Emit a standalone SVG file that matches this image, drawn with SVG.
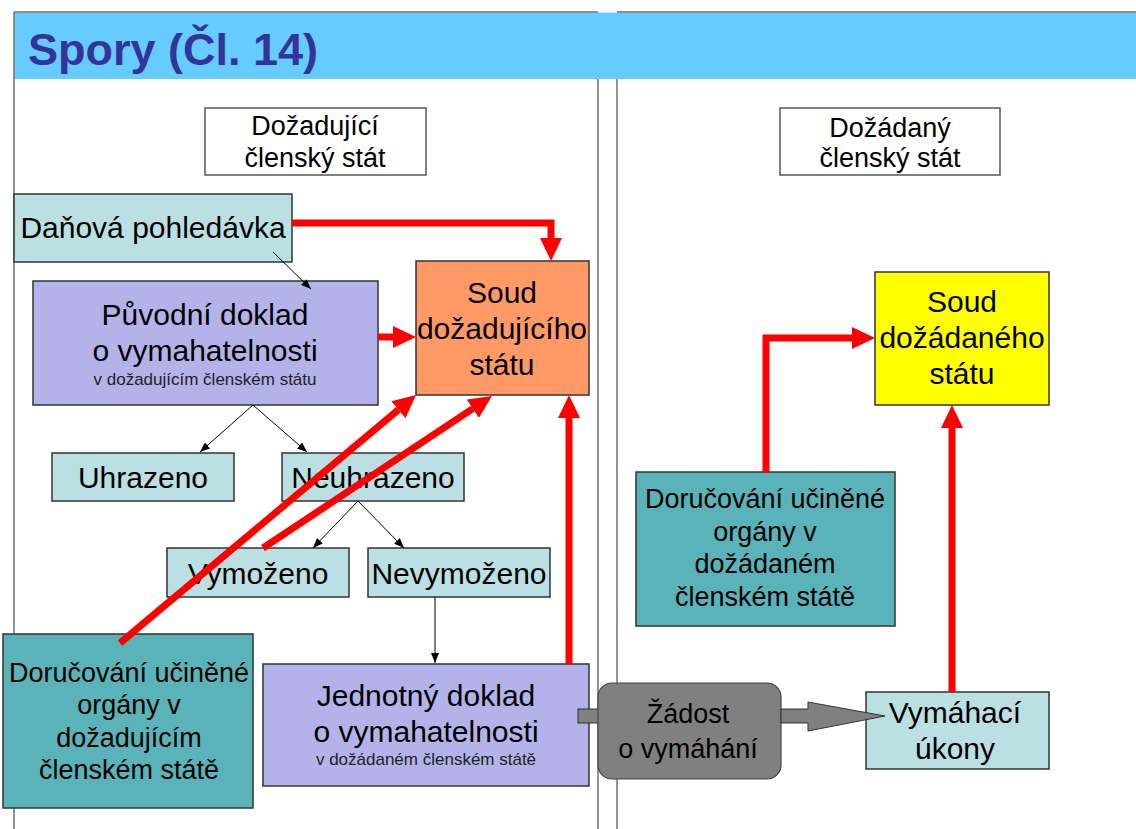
<svg xmlns="http://www.w3.org/2000/svg" width="1136" height="829" viewBox="0 0 1136 829">
  <defs>
    <style>
      .lbl { font-family: "Liberation Sans", Arial, sans-serif; fill: #000; text-anchor: middle; }
      .big { font-size: 30px; }
      .mid { font-size: 27px; }
      .sub { font-size: 17px; fill: #222; }
      .title { font-family: "Liberation Sans", Arial, sans-serif; font-size: 45px; font-weight: bold; fill: #333399; }
      .box { stroke: #333; stroke-width: 1.5; }
      .white { fill: #fff; stroke: #555; stroke-width: 1.5; }
      .pale { fill: #BBE0E3; }
      .lav { fill: #B3B3EA; }
      .teal { fill: #5BB3BA; }
      .frame { stroke: #707070; stroke-width: 1.5; fill: none; }
      .red { stroke: #FF0000; stroke-width: 7; fill: none; stroke-linejoin: miter; marker-end: url(#redHead); }
      .thin { stroke: #000; stroke-width: 1; fill: none; marker-end: url(#blackHead); }
    </style>
    <marker id="redHead" viewBox="0 0 23 22" refX="0" refY="11" markerWidth="23" markerHeight="22" markerUnits="userSpaceOnUse" orient="auto">
      <path d="M0,0 L23,11 L0,22 z" fill="#FF0000"/>
    </marker>
    <marker id="blackHead" viewBox="0 0 10 8" refX="10" refY="4" markerWidth="10" markerHeight="8" markerUnits="userSpaceOnUse" orient="auto">
      <path d="M0,0 L10,4 L0,8 z" fill="#000"/>
    </marker>
  </defs>

  <rect width="1136" height="829" fill="#fff"/>

  <!-- page frames and title band -->
  <g id="frame">
    <rect x="14" y="12.5" width="1122" height="66.5" fill="#66CCFF"/>
    <line class="frame" x1="14" y1="12" x2="598" y2="12"/>
    <line class="frame" x1="617" y1="12" x2="1136" y2="12"/>
    <line class="frame" x1="14" y1="12" x2="14" y2="829"/>
    <line class="frame" x1="598" y1="79" x2="598" y2="829"/>
    <line class="frame" x1="617" y1="79" x2="617" y2="829"/>
    <text class="title" x="28" y="65">Spory (Čl. 14)</text>
  </g>

  <!-- requesting state side -->
  <g id="hdr-left">
    <rect class="white" x="205" y="108" width="221" height="67"/>
    <text class="lbl mid" x="315" y="135">Dožadující</text>
    <text class="lbl mid" x="315" y="167">členský stát</text>
  </g>

  <g id="danova">
    <rect class="box pale" x="14" y="194" width="278" height="68"/>
    <text class="lbl big" x="153" y="238">Daňová pohledávka</text>
  </g>

  <g id="puvodni">
    <rect class="box lav" x="33" y="281" width="345" height="124"/>
    <text class="lbl big" x="205" y="325">Původní doklad</text>
    <text class="lbl big" x="205" y="361">o vymahatelnosti</text>
    <text class="lbl sub" x="205" y="385">v dožadujícím členském státu</text>
  </g>

  <g id="soud-left">
    <rect class="box" x="416" y="261" width="173" height="134" fill="#FF9966"/>
    <text class="lbl big" x="502" y="303">Soud</text>
    <text class="lbl big" x="502" y="339">dožadujícího</text>
    <text class="lbl big" x="502" y="375">státu</text>
  </g>

  <g id="uhrazeno">
    <rect class="box pale" x="52" y="453" width="182" height="48"/>
    <text class="lbl big" x="143" y="488">Uhrazeno</text>
  </g>

  <g id="neuhrazeno">
    <rect class="box pale" x="282" y="453" width="182" height="48"/>
    <text class="lbl big" x="373" y="488">Neuhrazeno</text>
  </g>

  <g id="vymozeno">
    <rect class="box pale" x="167" y="548" width="182" height="49"/>
    <text class="lbl big" x="258" y="584">Vymoženo</text>
  </g>

  <g id="nevymozeno">
    <rect class="box pale" x="368" y="548" width="182" height="49"/>
    <text class="lbl big" x="459" y="584">Nevymoženo</text>
  </g>

  <g id="doruc-left">
    <rect class="box teal" x="3" y="634" width="250" height="174"/>
    <text class="lbl mid" x="129" y="682">Doručování učiněné</text>
    <text class="lbl mid" x="129" y="714">orgány v</text>
    <text class="lbl mid" x="129" y="747">dožadujícím</text>
    <text class="lbl mid" x="129" y="779">členském státě</text>
  </g>

  <g id="jednotny">
    <rect class="box lav" x="263" y="664" width="326" height="122"/>
    <text class="lbl big" x="426" y="706">Jednotný doklad</text>
    <text class="lbl big" x="426" y="742">o vymahatelnosti</text>
    <text class="lbl sub" x="426" y="765">v dožádaném členském státě</text>
  </g>

  <!-- requested state side -->
  <g id="hdr-right">
    <rect class="white" x="780" y="108" width="220" height="67"/>
    <text class="lbl mid" x="890" y="137">Dožádaný</text>
    <text class="lbl mid" x="890" y="167">členský stát</text>
  </g>

  <g id="soud-right">
    <rect class="box" x="875" y="272" width="174" height="133" fill="#FFFF00"/>
    <text class="lbl big" x="962" y="312">Soud</text>
    <text class="lbl big" x="962" y="348">dožádaného</text>
    <text class="lbl big" x="962" y="384">státu</text>
  </g>

  <g id="doruc-right">
    <rect class="box teal" x="636" y="472" width="259" height="154"/>
    <text class="lbl mid" x="765" y="508">Doručování učiněné</text>
    <text class="lbl mid" x="765" y="541">orgány v</text>
    <text class="lbl mid" x="765" y="573">dožádaném</text>
    <text class="lbl mid" x="765" y="606">členském státě</text>
  </g>

  <g id="vymahaci">
    <rect class="box pale" x="866" y="692" width="183" height="77"/>
    <text class="lbl big" x="955" y="723">Vymáhací</text>
    <text class="lbl big" x="955" y="759">úkony</text>
  </g>

  <g id="zadost">
    <rect x="578" y="709" width="22" height="14" fill="#808080" stroke="#333" stroke-width="1"/>
    <rect x="598" y="683" width="183" height="96" rx="14" ry="14" fill="#808080" stroke="#444" stroke-width="1.2"/>
    <text class="lbl mid" x="688" y="723">Žádost</text>
    <text class="lbl mid" x="688" y="758">o vymáhání</text>
    <polygon points="781,709 808,709 808,702 885,716 808,731 808,723 781,723" fill="#808080" stroke="#333" stroke-width="1"/>
  </g>

  <!-- connectors -->
  <g id="connectors">
    <path class="thin" d="M273,252 L311,289"/>
    <path class="thin" d="M253,405 L200,452"/>
    <path class="thin" d="M253,405 L307,452"/>
    <path class="thin" d="M358,501 L313,548"/>
    <path class="thin" d="M358,501 L404,548"/>
    <path class="thin" d="M435,597 L435,663"/>

    <path class="red" d="M292,223 H551 V238"/>
    <path class="red" d="M378,337 H393"/>
    <path class="red" d="M120,643 L398.4,409.8"/>
    <path class="red" d="M263,548 L472.8,408.7"/>
    <path class="red" d="M569,664 V418"/>
    <path class="red" d="M766,472 V338 H852"/>
    <path class="red" d="M952,692 V428"/>
  </g>
</svg>
